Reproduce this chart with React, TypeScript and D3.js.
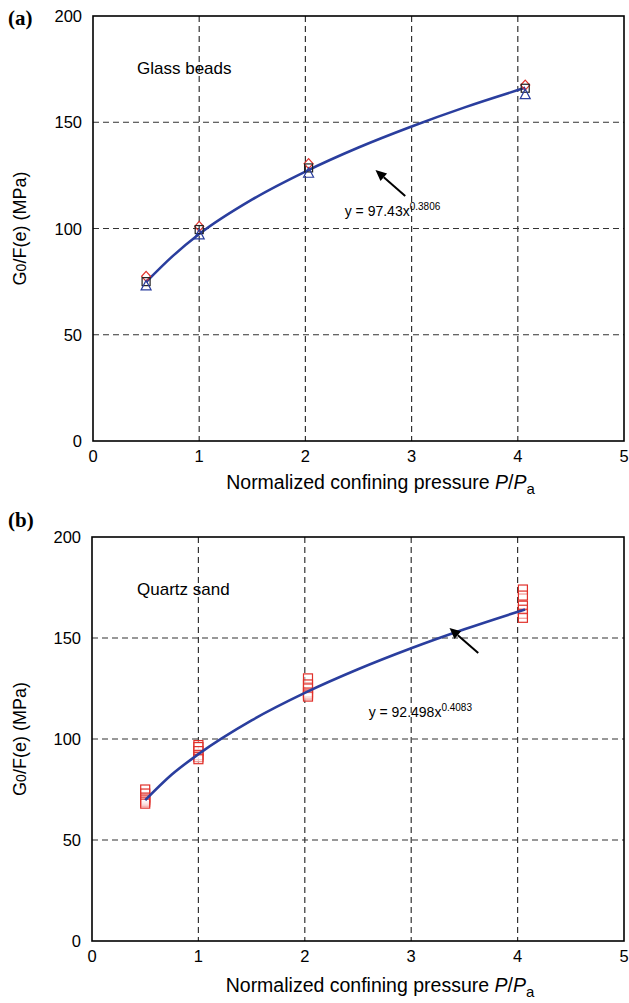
import React from "react";
import * as d3 from "d3";

// ---- data ----
const xTicks = [0, 1, 2, 3, 4, 5];
const yTicks = [0, 50, 100, 150, 200];
const gridX = [1, 2, 3, 4];
const gridY = [50, 100, 150];

// Panel (a) glass beads
const aX = [0.5, 1.0, 2.03, 4.07];
const aDiamond = [77.5, 101, 130.5, 167.5];
const aSquare = [75, 99.5, 128.5, 166];
const aTriangle = [73, 97, 126, 163];
const aCurveX = [0.5, 0.75, 1.0, 1.5, 2.0, 2.5, 3.0, 3.5, 4.07];
const aCurveY = [74.8, 87.0, 97.4, 113.7, 126.8, 138.1, 148.0, 157.0, 166.2];

// Panel (b) quartz sand
const bX = [0.5, 1.0, 2.03, 4.05];
const bSquares = [
  [75, 73, 71, 70, 69, 68],
  [97, 96, 94, 92, 91, 90],
  [130, 127, 125, 123, 122, 121],
  [174, 171, 166, 164, 162, 160],
];
const bCurveX = [0.5, 0.75, 1.0, 1.5, 2.0, 2.5, 3.0, 3.5, 4.07];
const bCurveY = [69.7, 82.4, 92.5, 109.2, 122.8, 134.5, 144.9, 154.3, 164.1];

const FONT = "'Liberation Sans', Arial, Helvetica, sans-serif";
const BLUE = "#2a3e9e";
const RED = "#e0302a";

type PanelProps = {
  top: number;
  bottom: number;
  left: number;
  right: number;
  letter: string;
  letterY: number;
  titleY: number;
  children: (x: d3.ScaleLinear<number, number>, y: d3.ScaleLinear<number, number>) => React.ReactNode;
};

function Panel({ top, bottom, left, right, letter, letterY, titleY, children }: PanelProps) {
  const x = d3.scaleLinear().domain([0, 5]).range([left, right]);
  const y = d3.scaleLinear().domain([0, 200]).range([bottom, top]);
  const midY = (top + bottom) / 2;
  return (
    <g>
      <text x={8} y={letterY} fontFamily="'Liberation Serif', 'Times New Roman', serif" fontWeight="bold" fontSize={21}>
        {letter}
      </text>
      {gridX.map((v) => (
        <line key={"gx" + v} x1={x(v)} x2={x(v)} y1={top} y2={bottom} stroke="#333" strokeWidth={1.2} strokeDasharray="6,4" />
      ))}
      {gridY.map((v) => (
        <line key={"gy" + v} x1={left} x2={right} y1={y(v)} y2={y(v)} stroke="#333" strokeWidth={1.2} strokeDasharray="6,4" />
      ))}
      <rect x={left} y={top} width={right - left} height={bottom - top} fill="none" stroke="#000" strokeWidth={1.6} />
      {yTicks.map((v) => (
        <text key={"yt" + v} x={left - 11} y={y(v) + 6} textAnchor="end" fontFamily={FONT} fontSize={16.5}>
          {v}
        </text>
      ))}
      {xTicks.map((v) => (
        <text key={"xt" + v} x={x(v)} y={bottom + 21} textAnchor="middle" fontFamily={FONT} fontSize={16.5}>
          {v}
        </text>
      ))}
      <text x={(left + right) / 2 + 22} y={titleY} textAnchor="middle" fontFamily={FONT} fontSize={19.5}>
        Normalized confining pressure <tspan fontStyle="italic">P</tspan>/<tspan fontStyle="italic">P</tspan>
        <tspan fontSize={15} dy={5}>a</tspan>
      </text>
      <text
        transform={`translate(26,${midY}) rotate(-90)`}
        textAnchor="middle"
        fontFamily={FONT}
        fontSize={18}
      >
        G<tspan fontSize={14}>0</tspan>/F(e) (MPa)
      </text>
      {children(x, y)}
    </g>
  );
}

function Arrow({ x1, y1, x2, y2 }: { x1: number; y1: number; x2: number; y2: number }) {
  const ang = Math.atan2(y2 - y1, x2 - x1);
  const L = 11;
  const W = 5;
  const bx = x2 - L * Math.cos(ang);
  const by = y2 - L * Math.sin(ang);
  const px = -Math.sin(ang) * W;
  const py = Math.cos(ang) * W;
  return (
    <g>
      <line x1={x1} y1={y1} x2={bx} y2={by} stroke="#000" strokeWidth={2} />
      <path d={`M${x2},${y2}L${bx + px},${by + py}L${bx - px},${by - py}Z`} fill="#000" />
    </g>
  );
}

export default function App() {
  const line = (x: d3.ScaleLinear<number, number>, y: d3.ScaleLinear<number, number>, xs: number[], ys: number[]) =>
    d3
      .line<number>()
      .x((_, i) => x(xs[i]))
      .y((d) => y(d))
      .curve(d3.curveMonotoneX)(ys) || "";

  return (
    <svg width={629} height={1003} style={{ position: "absolute", left: 0, top: 0, background: "#fff" }}>
      <rect width={629} height={1003} fill="#fff" />
      <Panel top={16} bottom={441} left={93} right={624} letter="(a)" letterY={25} titleY={489}>
        {(x, y) => (
          <g>
            <text x={137} y={74} fontFamily={FONT} fontSize={17}>Glass beads</text>
            <path d={line(x, y, aCurveX, aCurveY)} fill="none" stroke={BLUE} strokeWidth={2.6} />
            {aX.map((xv, i) => {
              const cx = x(xv), cy = y(aDiamond[i]);
              return <path key={"d" + i} d={`M${cx},${cy - 5}L${cx + 4.5},${cy}L${cx},${cy + 5}L${cx - 4.5},${cy}Z`} fill="none" stroke={RED} strokeWidth={1.2} />;
            })}
            {aX.map((xv, i) => {
              const cx = x(xv), cy = y(aSquare[i]);
              return <rect key={"s" + i} x={cx - 4} y={cy - 4} width={8} height={8} fill="none" stroke="#222" strokeWidth={1.2} />;
            })}
            {aX.map((xv, i) => {
              const cx = x(xv), cy = y(aTriangle[i]);
              return <path key={"t" + i} d={`M${cx},${cy - 5.5}L${cx + 5},${cy + 4}L${cx - 5},${cy + 4}Z`} fill="none" stroke={BLUE} strokeWidth={1.2} />;
            })}
            <Arrow x1={x(2.94)} y1={y(115.3)} x2={x(2.66)} y2={y(127.5)} />
            <text x={x(2.37)} y={y(106)} fontFamily={FONT} fontSize={14}>
              y = 97.43x<tspan fontSize={10} dy={-6}>0.3806</tspan>
            </text>
          </g>
        )}
      </Panel>
      <Panel top={537} bottom={941} left={92} right={624} letter="(b)" letterY={527} titleY={992}>
        {(x, y) => (
          <g>
            <text x={137} y={595} fontFamily={FONT} fontSize={17}>Quartz sand</text>
            {bX.map((xv, i) =>
              bSquares[i].map((v, j) => (
                <rect key={"b" + i + "_" + j} x={x(xv) - 4.5} y={y(v) - 4.5} width={9} height={9} fill="#fff" fillOpacity={0.5} stroke={RED} strokeWidth={1.2} />
              ))
            )}
            <path d={line(x, y, bCurveX, bCurveY)} fill="none" stroke={BLUE} strokeWidth={2.6} />
            <Arrow x1={x(3.63)} y1={y(142.6)} x2={x(3.36)} y2={y(155)} />
            <text x={x(2.6)} y={y(111)} fontFamily={FONT} fontSize={14}>
              y = 92.498x<tspan fontSize={10} dy={-6}>0.4083</tspan>
            </text>
          </g>
        )}
      </Panel>
    </svg>
  );
}
